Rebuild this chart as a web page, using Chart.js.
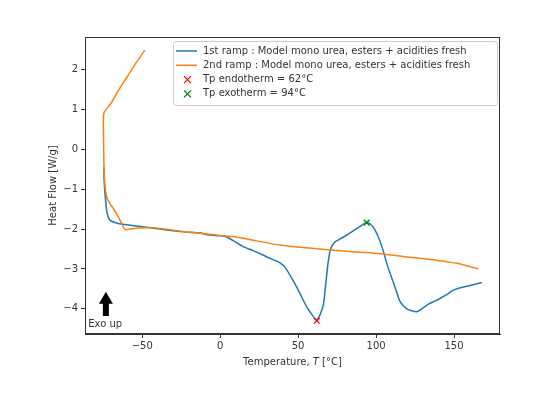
<!DOCTYPE html>
<html>
<head>
<meta charset="utf-8">
<script src="https://cdn.jsdelivr.net/npm/chart.js@4"></script>
<style>
  html, body { margin: 0; padding: 0; background: #fff; }
  canvas { display: block; }
</style>
</head>
<body>
<canvas id="dsc" width="550" height="399"></canvas>
<script>
// 1st ramp (blue)
const ramp1T  = [-74.6, -74.4, -73.5, -72.5, -70.7, -68, -65.4, -55, -45, -33.3, -20, -12, -10, 0, 4.2, 10, 15.9, 21.2, 30, 38.4, 42, 46.9, 51, 55.5, 59, 61.9, 64, 66.2, 67.8, 69.4, 71, 73.7, 76, 81.2, 87, 91, 93.5, 96.5, 99.3, 102, 104.7, 107, 110, 113, 115.4, 119.7, 123.9, 126, 128.2, 131, 134.6, 138, 141, 145, 149.6, 154, 158.2, 163, 167.8];
const ramp1HF = [-0.44, -0.8, -1.28, -1.6, -1.78, -1.83, -1.86, -1.92, -1.97, -2.03, -2.08, -2.1, -2.13, -2.17, -2.2, -2.33, -2.46, -2.54, -2.7, -2.85, -2.98, -3.3, -3.6, -3.95, -4.15, -4.28, -4.15, -3.9, -3.35, -2.8, -2.48, -2.32, -2.27, -2.15, -2.0, -1.9, -1.84, -1.88, -2.02, -2.25, -2.56, -2.88, -3.22, -3.55, -3.82, -4.0, -4.06, -4.07, -4.03, -3.95, -3.86, -3.8, -3.74, -3.65, -3.53, -3.47, -3.43, -3.39, -3.34];

// 2nd ramp (orange)
const ramp2T  = [-48.3, -55, -61, -66.4, -70, -74.6, -74.8, -74.5, -73.9, -72.8, -70.5, -68.6, -65.4, -63, -61.1, -58, -53.6, -44, -30, -22.6, -10, 0, 10, 15.9, 25, 38.4, 55, 72.6, 85, 95.1, 102.5, 120, 138.9, 145.3, 151.7, 158, 165.6];
const ramp2HF = [2.48, 2.1, 1.73, 1.4, 1.15, 0.9, 0.3, -0.5, -0.9, -1.19, -1.38, -1.48, -1.69, -1.88, -2.01, -2.0, -1.98, -1.96, -2.03, -2.07, -2.12, -2.16, -2.2, -2.24, -2.31, -2.4, -2.47, -2.53, -2.57, -2.59, -2.62, -2.7, -2.78, -2.82, -2.86, -2.92, -3.0];

// peak markers
const endoPeak = { T: 62, HF: -4.3 };
const exoPeak  = { T: 94, HF: -1.84 };

// axes
const xTicks = [-50, 0, 50, 100, 150];
const yTicks = [-4, -3, -2, -1, 0, 1, 2];
const xRange = [-86.7, 179.5];
const yRange = [-4.63, 2.81];

const legendLabels = [
  '1st ramp : Model mono urea, esters + acidities fresh',
  '2nd ramp : Model mono urea, esters + acidities fresh',
  'Tp endotherm = 62°C',
  'Tp exotherm = 94°C'
];

// "Exo up" annotation (data coords)
const exoArrow = { T: -73.3, tip: -3.57, tail: -4.18 };
const exoText = { T: -84.6, HF: -4.4, label: 'Exo up' };

const FONT = 'DejaVu Sans';
const INK = '#333';
const fmt = v => (v < 0 ? '\u2212' + Math.abs(v) : String(v));
const pts = (xs, ys) => xs.map((x, i) => ({ x: x, y: ys[i] }));

const decor = {
  id: 'decor',
  afterDraw(chart) {
    const ctx = chart.ctx;
    const a = chart.chartArea;
    const xs = chart.scales.x, ys = chart.scales.y;
    ctx.save();

    // frame
    ctx.strokeStyle = INK;
    ctx.lineWidth = 1;
    ctx.strokeRect(Math.round(a.left) + 0.5, Math.round(a.top) + 0.5,
                   Math.round(a.right - a.left) - 1, Math.round(a.bottom - a.top) - 1);

    // exo up arrow
    const ax = xs.getPixelForValue(exoArrow.T);
    const tipY = ys.getPixelForValue(exoArrow.tip);
    const tailY = ys.getPixelForValue(exoArrow.tail);
    ctx.fillStyle = '#000';
    ctx.beginPath();
    ctx.moveTo(ax, tipY);
    ctx.lineTo(ax + 7, tipY + 12);
    ctx.lineTo(ax + 3, tipY + 12);
    ctx.lineTo(ax + 3, tailY);
    ctx.lineTo(ax - 3, tailY);
    ctx.lineTo(ax - 3, tipY + 12);
    ctx.lineTo(ax - 7, tipY + 12);
    ctx.closePath();
    ctx.fill();
    ctx.fillStyle = INK;
    ctx.font = '10px ' + FONT;
    ctx.textAlign = 'left';
    ctx.textBaseline = 'middle';
    ctx.fillText(exoText.label, xs.getPixelForValue(exoText.T), ys.getPixelForValue(exoText.HF));

    // axis titles
    ctx.textAlign = 'center';
    ctx.save();
    ctx.translate(a.left - 32, (a.top + a.bottom) / 2);
    ctx.rotate(-Math.PI / 2);
    ctx.fillText('Heat Flow [W/g]', 0, 0);
    ctx.restore();
    const p1 = 'Temperature, ', p2 = 'T', p3 = ' [°C]';
    ctx.font = '10px ' + FONT;
    const w1 = ctx.measureText(p1).width, w3 = ctx.measureText(p3).width;
    ctx.font = 'italic 10px ' + FONT;
    const w2 = ctx.measureText(p2).width;
    let tx = (a.left + a.right) / 2 - (w1 + w2 + w3) / 2;
    const ty = a.bottom + 28;
    ctx.textAlign = 'left';
    ctx.font = '10px ' + FONT;
    ctx.fillText(p1, tx, ty);
    ctx.font = 'italic 10px ' + FONT;
    ctx.fillText(p2, tx + w1, ty);
    ctx.font = '10px ' + FONT;
    ctx.fillText(p3, tx + w1 + w2, ty);

    // legend
    const lx = 173, ly = 41.5, lw = 324, lh = 64;
    ctx.fillStyle = 'rgba(255,255,255,0.8)';
    ctx.strokeStyle = '#ccc';
    ctx.lineWidth = 1;
    ctx.beginPath();
    ctx.roundRect(lx + 0.5, ly, lw, lh, 3);
    ctx.fill();
    ctx.stroke();
    const rows = [51, 65.3, 79.6, 93.9];
    const ds = chart.data.datasets;
    ctx.font = '10px ' + FONT;
    rows.forEach((ry, i) => {
      const col = ds[i].borderColor;
      ctx.strokeStyle = col;
      if (i < 2) {
        ctx.lineWidth = 1.5;
        ctx.beginPath();
        ctx.moveTo(176, ry);
        ctx.lineTo(197, ry);
        ctx.stroke();
      } else {
        ctx.lineWidth = 1.3;
        ctx.beginPath();
        ctx.moveTo(184, ry - 3.5); ctx.lineTo(191, ry + 3.5);
        ctx.moveTo(191, ry - 3.5); ctx.lineTo(184, ry + 3.5);
        ctx.stroke();
      }
      ctx.fillStyle = INK;
      ctx.fillText(legendLabels[i], 203, ry);
    });
    ctx.restore();
  }
};

new Chart(document.getElementById('dsc'), {
  type: 'scatter',
  data: {
    datasets: [
      { label: legendLabels[0], data: pts(ramp1T, ramp1HF), showLine: true, borderColor: '#1f77b4',
        borderWidth: 1.5, pointRadius: 0, tension: 0.25, order: 2 },
      { label: legendLabels[1], data: pts(ramp2T, ramp2HF), showLine: true, borderColor: '#ff7f0e',
        borderWidth: 1.5, pointRadius: 0, tension: 0.2, order: 1 },
      { label: legendLabels[2], data: [{ x: endoPeak.T, y: endoPeak.HF }], pointStyle: 'crossRot',
        pointRadius: 4, borderColor: '#ff0000', borderWidth: 1.3, order: 0 },
      { label: legendLabels[3], data: [{ x: exoPeak.T, y: exoPeak.HF }], pointStyle: 'crossRot',
        pointRadius: 4, borderColor: '#008000', borderWidth: 1.3, order: 0 }
    ]
  },
  options: {
    responsive: false,
    animation: false,
    layout: { padding: { top: 37, right: 50, left: 0, bottom: 0 } },
    plugins: { legend: { display: false }, tooltip: { enabled: false } },
    scales: {
      x: {
        type: 'linear', min: xRange[0], max: xRange[1],
        afterBuildTicks: s => { s.ticks = xTicks.map(v => ({ value: v })); },
        afterFit: s => { s.height = 65; },
        grid: { drawOnChartArea: false, tickLength: 4, color: INK },
        border: { color: INK },
        ticks: { font: { family: FONT, size: 10 }, color: INK, padding: 2, maxRotation: 0, callback: fmt }
      },
      y: {
        type: 'linear', min: yRange[0], max: yRange[1],
        afterBuildTicks: s => { s.ticks = yTicks.map(v => ({ value: v })); },
        afterFit: s => { s.width = 85; },
        grid: { drawOnChartArea: false, tickLength: 4, color: INK },
        border: { color: INK },
        ticks: { font: { family: FONT, size: 10 }, color: INK, padding: 3, callback: fmt }
      }
    }
  },
  plugins: [decor]
});
</script>
</body>
</html>
